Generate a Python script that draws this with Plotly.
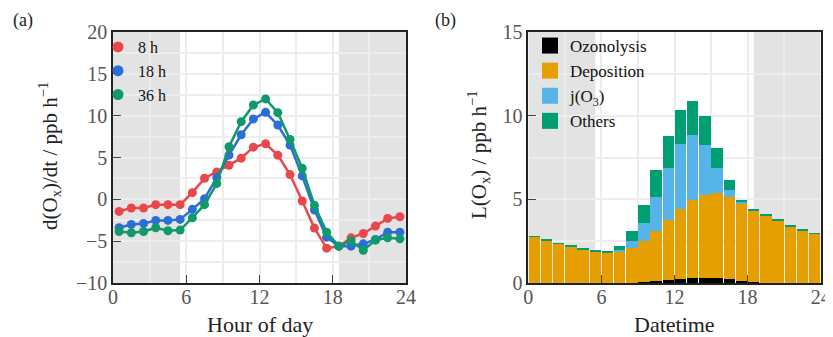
import plotly.graph_objects as go

# ---------------- data ----------------
hours = [h + 0.5 for h in range(24)]

dox_8h = [-1.44, -1.04, -1.04, -0.64, -0.64, -0.64, 0.8, 2.52, 3.28, 4.08, 4.92, 6.24,
          6.64, 5.28, 2.96, -0.2, -3.44, -5.84, -5.6, -4.6, -4.08, -3.2, -2.28, -2.08]
dox_18h = [-3.4, -3.0, -2.88, -2.52, -2.52, -2.4, -1.2, 0.08, 2.6, 5.28, 7.72, 9.6,
           10.4, 8.88, 6.48, 2.8, -1.28, -4.52, -5.6, -5.6, -5.32, -4.8, -3.92, -3.92]
dox_36h = [-3.84, -4.0, -3.84, -3.4, -3.76, -3.68, -2.2, -0.64, 1.88, 6.28, 9.28, 11.28,
           12.0, 10.36, 7.16, 3.72, -0.72, -3.92, -5.6, -4.96, -6.08, -4.88, -4.6, -4.72]

ozonolysis = [0, 0, 0, 0, 0, 0, 0, 0, 0.02, 0.06, 0.12, 0.18,
              0.26, 0.32, 0.32, 0.30, 0.24, 0.14, 0.06, 0, 0, 0, 0, 0]
deposition = [2.75, 2.55, 2.35, 2.19, 2.03, 1.89, 1.85, 1.89, 2.07, 2.47, 2.97, 3.57,
              4.16, 4.62, 4.96, 5.08, 4.90, 4.64, 4.28, 4.02, 3.73, 3.39, 3.15, 2.93]
j_o3 = [0, 0, 0, 0, 0, 0, 0, 0.10, 0.40, 1.06, 2.05, 3.12,
        3.89, 3.92, 2.97, 1.47, 0.40, 0.04, 0.02, 0, 0, 0, 0, 0]
others = [0.04, 0.04, 0.04, 0.04, 0.04, 0.04, 0.06, 0.24, 0.64, 1.09, 1.59, 1.89,
          2.05, 2.04, 1.71, 1.20, 0.60, 0.16, 0.08, 0.05, 0.05, 0.05, 0.05, 0.05]

line_names = ["8 h", "18 h", "36 h"]
line_colors = ["#E8474B", "#2B6ED8", "#10996A"]

bar_names = ["Ozonolysis", "Deposition", "j(O<sub>3</sub>)", "Others"]
bar_colors = ["#000000", "#E69F00", "#56B4E9", "#009E73"]

x_ticks = [0, 6, 12, 18, 24]
night_spans = [(0, 5.5), (18.5, 24)]

# ---------------- layout helpers ----------------
W, H, OFF = 833, 337, 8  # page body margin shifts the figure by OFF px


def px(X):
    return (X - OFF) / W


def py(Y):
    return 1 - (Y - OFF) / H


FONT = "Liberation Serif"
fig = go.Figure()

for name, vals, col in zip(line_names, [dox_8h, dox_18h, dox_36h], line_colors):
    fig.add_trace(go.Scatter(x=hours, y=vals, mode="lines+markers", showlegend=False,
                             line=dict(color=col, width=2.5),
                             marker=dict(color=col, size=9),
                             xaxis="x", yaxis="y"))
for name, col in zip(line_names, line_colors):
    fig.add_trace(go.Scatter(x=[None], y=[None], mode="markers", name=name,
                             marker=dict(color=col, size=11), legend="legend",
                             xaxis="x", yaxis="y"))

for name, vals, col in zip(bar_names, [ozonolysis, deposition, j_o3, others], bar_colors):
    fig.add_trace(go.Bar(x=hours, y=vals, name=name, showlegend=False,
                         marker=dict(color=col, line=dict(width=0)),
                         xaxis="x2", yaxis="y2"))
for name, col in zip(bar_names, bar_colors):
    fig.add_trace(go.Scatter(x=[None], y=[None], mode="markers", name=name,
                             marker=dict(color=col, size=16, symbol="square"),
                             legend="legend2", xaxis="x2", yaxis="y2"))

for xref, yref in [("x", "y"), ("x2", "y2")]:
    for a, b in night_spans:
        fig.add_shape(type="rect", xref=xref, yref=yref + " domain", x0=a, x1=b, y0=0, y1=1,
                      fillcolor="#e3e3e3", line=dict(width=0), layer="below")

tickfont = dict(family=FONT, size=20, color="#555555")
common_x = dict(range=[0, 24], tickvals=x_ticks, ticks="inside", ticklen=8, tickwidth=1.2,
                tickcolor="#444", showline=True, linecolor="#222", linewidth=1.5, mirror=True,
                showgrid=True, gridcolor="#ededed", gridwidth=1.5, zeroline=False,
                minor=dict(dtick=3, showgrid=True, gridcolor="#ededed", gridwidth=1.5, ticks=""),
                tickfont=tickfont, fixedrange=True, automargin=False, ticklabelstandoff=-5)
common_y = dict(ticks="inside", ticklen=8, tickwidth=1.2, tickcolor="#444",
                showline=True, linecolor="#222", linewidth=1.5, mirror=True,
                showgrid=True, gridcolor="#ededed", gridwidth=1.5, zeroline=False,
                tickfont=tickfont, fixedrange=True, automargin=False)

ydom = [py(283), py(32)]
fig.update_layout(
    width=W, height=H,
    margin=dict(l=0, r=0, t=0, b=0, pad=0, autoexpand=False),
    paper_bgcolor="white", plot_bgcolor="white",
    barmode="stack", bargap=0.06,
    font=dict(family=FONT, color="#222"),
    xaxis=dict(domain=[px(113), px(406)], anchor="y", **common_x),
    yaxis=dict(domain=ydom, anchor="x", range=[-10, 20], dtick=5,
               minor=dict(dtick=2.5, showgrid=True, gridcolor="#ededed", gridwidth=1.5, ticks=""),
               **common_y),
    xaxis2=dict(domain=[px(528.3), px(820.7)], anchor="y2", **common_x),
    yaxis2=dict(domain=ydom, anchor="x2", range=[0, 15], dtick=5,
                minor=dict(dtick=2.5, showgrid=True, gridcolor="#ededed", gridwidth=1.5, ticks=""),
                **common_y),
    legend=dict(x=px(98), y=py(30), xanchor="left", yanchor="top",
                bgcolor="rgba(0,0,0,0)", font=dict(family=FONT, size=16, color="#111"),
                tracegroupgap=0, itemwidth=30, traceorder="normal"),
    legend2=dict(x=px(530), y=py(28), xanchor="left", yanchor="top",
                 bgcolor="rgba(0,0,0,0)", font=dict(family=FONT, size=17, color="#111"),
                 tracegroupgap=0, itemwidth=30, traceorder="normal"),
)

ann = dict(xref="paper", yref="paper", showarrow=False, xanchor="center", yanchor="middle")
fig.add_annotation(text="d(O<sub>x</sub>)/dt / ppb h<sup>−1</sup>", x=px(49), y=py(156),
                   textangle=-90, font=dict(family=FONT, size=21, color="#222"), **ann)
fig.add_annotation(text="L(O<sub>x</sub>) / ppb h<sup>−1</sup>", x=px(478), y=py(155),
                   textangle=-90, font=dict(family=FONT, size=21, color="#222"), **ann)
fig.add_annotation(text="Hour of day", x=px(259.5), y=py(324),
                   font=dict(family=FONT, size=22, color="#222"), **ann)
fig.add_annotation(text="Datetime", x=px(674.5), y=py(324),
                   font=dict(family=FONT, size=22, color="#222"), **ann)
fig.add_annotation(text="(a)", x=px(23), y=py(20), font=dict(family=FONT, size=18, color="#222"), **ann)
fig.add_annotation(text="(b)", x=px(445), y=py(20), font=dict(family=FONT, size=18, color="#222"), **ann)

fig.write_html("out.html")
